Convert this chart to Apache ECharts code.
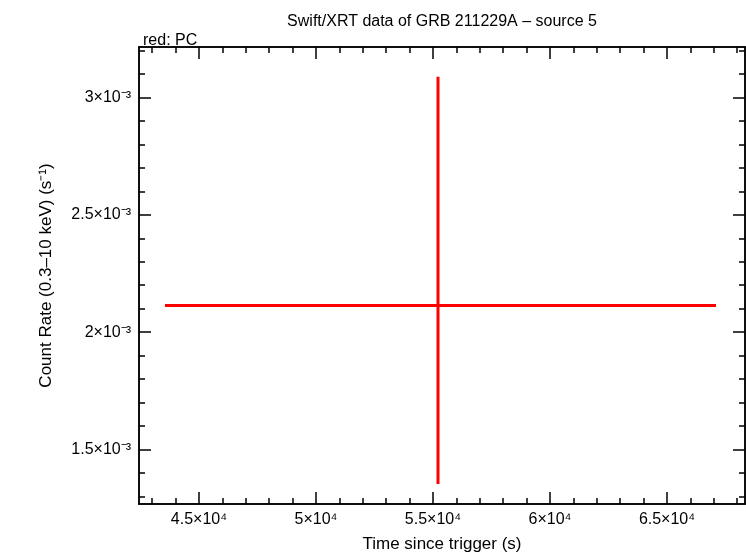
<!DOCTYPE html>
<html><head><meta charset="utf-8">
<script src="https://cdn.jsdelivr.net/npm/echarts@6/dist/echarts.min.js"></script>
<style>html,body{margin:0;padding:0;background:#fff}#c{width:746px;height:558px}</style>
</head><body><div id="c"></div>
<script>
const xMajor=[45000,50000,55000,60000,65000];
const xMinor=[];for(let v=43000;v<=68000;v+=1000)xMinor.push(v);
const yMajor=[0.0015,0.002,0.0025,0.003];
const yMinor=[];for(let i=13;i<=32;i++)yMinor.push(i/10000);
// point: [x, xlo, xhi, y, ylo, yhi]
const points=[[55214,43547,67094,0.002114,0.001352,0.003089]];
const xr=[42436,68333], yr=[0.001267,0.003216];
const fmtX=v=>(+(v/1e4).toFixed(2))+'×10⁴';
const fmtY=v=>(+(v*1e3).toFixed(2))+'×10⁻³';
function xa(extra){return Object.assign({type:'value',min:xr[0],max:xr[1],splitLine:{show:false},axisLine:{show:true,lineStyle:{color:'#000',width:1.5}},axisLabel:{show:false},axisTick:{show:false}},extra);}
function ya(extra){return Object.assign({type:'value',min:yr[0],max:yr[1],splitLine:{show:false},axisLine:{show:true,lineStyle:{color:'#000',width:1.5}},axisLabel:{show:false},axisTick:{show:false}},extra);}
const tk=(vals,len)=>({show:true,inside:true,length:len,customValues:vals,lineStyle:{color:'#000',width:1.5}});
const lab=(vals,f)=>({show:true,customValues:vals,formatter:f,color:'#000',fontSize:16,fontFamily:'Liberation Sans, Arial'});
const chart=echarts.init(document.getElementById('c'));
chart.setOption({
 animation:false,
 title:[{text:'Swift/XRT data of GRB 211229A – source 5',left:437,top:9,textAlign:'center',textStyle:{fontSize:16,fontWeight:'normal',color:'#000',fontFamily:'Liberation Sans, Arial'}},
        {text:'red: PC',left:138,top:28,textStyle:{fontSize:16,fontWeight:'normal',color:'#000',fontFamily:'Liberation Sans, Arial'}}],
 grid:{left:139,top:47,width:606,height:460},
 xAxis:[xa({position:'bottom',axisTick:tk(xMajor,12),axisLabel:lab(xMajor,fmtX),name:'Time since trigger (s)',nameLocation:'middle',nameGap:32,nameTextStyle:{fontSize:17,color:'#000',fontFamily:'Liberation Sans, Arial'}}),
        xa({position:'bottom',axisTick:tk(xMinor,6)}),
        xa({position:'top',axisTick:tk(xMajor,12)}),
        xa({position:'top',axisTick:tk(xMinor,6)})],
 yAxis:[ya({position:'left',axisTick:tk(yMajor,12),axisLabel:lab(yMajor,fmtY),name:'Count Rate (0.3–10 keV) (s⁻¹)',nameLocation:'middle',nameGap:84,nameTextStyle:{fontSize:17,color:'#000',fontFamily:'Liberation Sans, Arial'}}),
        ya({position:'left',axisTick:tk(yMinor,6)}),
        ya({position:'right',axisTick:tk(yMajor,12)}),
        ya({position:'right',axisTick:tk(yMinor,6)})],
 series:[{type:'custom',xAxisIndex:0,yAxisIndex:0,data:points,
  renderItem:(p,api)=>{
   const l=api.coord([api.value(1),api.value(3)]),r=api.coord([api.value(2),api.value(3)]);
   const b=api.coord([api.value(0),api.value(4)]),t=api.coord([api.value(0),api.value(5)]);
   const st={stroke:'#ff0000',lineWidth:3};
   return {type:'group',children:[
    {type:'line',shape:{x1:l[0],y1:l[1],x2:r[0],y2:r[1]},style:st},
    {type:'line',shape:{x1:b[0],y1:b[1],x2:t[0],y2:t[1]},style:st}]};
  }}]
});
</script></body></html>
